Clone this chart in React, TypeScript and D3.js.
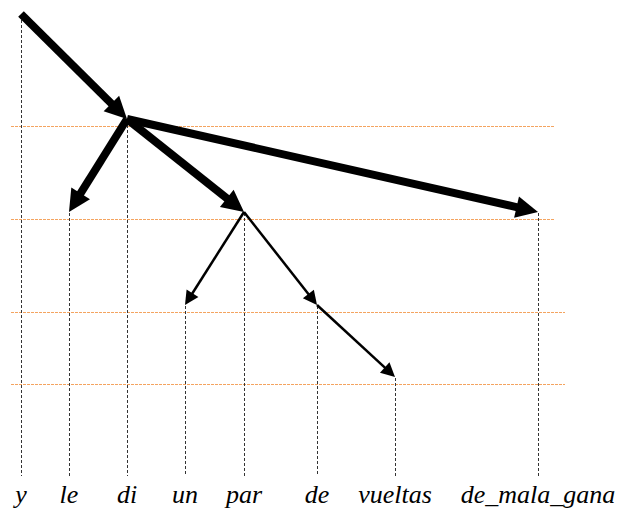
import React, { useEffect, useRef } from 'react';
import * as d3 from 'd3';

// words of the sentence, in order
const words = ['y', 'le', 'di', 'un', 'par', 'de', 'vueltas', 'de_mala_gana'];
// depth of each word in the tree
const depths = [0, 2, 1, 3, 2, 3, 4, 2];
// head of each word (null = root)
const heads = [null, 'di', 'y', 'par', 'di', 'par', 'de', 'di'];
// weight of the arc coming into each word
const arcWeights = ['', 'thick', 'thick', 'thin', 'thick', 'thin', 'thin', 'thick'];
// levels that get an orange guide line
const guideLevels = [1, 2, 3, 4];

function App() {
  const svgRef = useRef() as React.RefObject<SVGSVGElement>;

  useEffect(() => {
    const width = 636;
    const height = 508;
    const bottom = 476;

    const svg = d3.select(svgRef.current)
      .attr('width', width)
      .attr('height', height);
    svg.selectAll('*').remove();

    const x = d3.scaleOrdinal<string, number>()
      .domain(words)
      .range([21, 69, 127, 185, 244, 317, 395, 538]);

    const y = d3.scaleLinear()
      .domain([0, 1, 2, 3, 4])
      .range([14, 119, 212, 305, 377]);

    // orange guide lines
    svg.selectAll('.guide')
      .data(guideLevels)
      .join('line')
      .attr('class', 'guide')
      .attr('x1', 11)
      .attr('x2', d => (d < 3 ? 555 : 565))
      .attr('y1', d => y(d) + 7.5)
      .attr('y2', d => y(d) + 7.5)
      .attr('stroke', '#f4a460')
      .attr('stroke-width', 1.2)
      .attr('stroke-dasharray', '3,1');

    const nodes = words.map((w, i) => ({ word: w, depth: depths[i], head: heads[i], weight: arcWeights[i] }));

    // vertical dotted projection lines
    svg.selectAll('.proj')
      .data(nodes)
      .join('line')
      .attr('class', 'proj')
      .attr('x1', d => x(d.word) + 0.5)
      .attr('x2', d => x(d.word) + 0.5)
      .attr('y1', d => y(d.depth) + 1)
      .attr('y2', bottom)
      .attr('stroke', '#333')
      .attr('stroke-width', 1)
      .attr('stroke-dasharray', '3,2');

    // arcs
    const depthOf = (w: string) => depths[words.indexOf(w)];
    const arcs = nodes.filter(d => d.head !== null).map(d => {
      const thick = d.weight === 'thick';
      return {
        x1: x(d.head as string), y1: y(depthOf(d.head as string)),
        x2: x(d.word), y2: y(d.depth),
        sw: thick ? 8 : 2.5,
        hl: thick ? 22 : 14,
        hw: thick ? 22 : 14,
      };
    });

    const g = svg.append('g');
    arcs.forEach(a => {
      const dx = a.x2 - a.x1;
      const dy = a.y2 - a.y1;
      const len = Math.sqrt(dx * dx + dy * dy);
      const ux = dx / len;
      const uy = dy / len;
      const bx = a.x2 - ux * a.hl;
      const by = a.y2 - uy * a.hl;
      g.append('line')
        .attr('x1', a.x1)
        .attr('y1', a.y1)
        .attr('x2', bx + ux * 1)
        .attr('y2', by + uy * 1)
        .attr('stroke', '#000')
        .attr('stroke-width', a.sw);
      const pts: [number, number][] = [
        [a.x2, a.y2],
        [bx - uy * a.hw / 2, by + ux * a.hw / 2],
        [bx + uy * a.hw / 2, by - ux * a.hw / 2],
      ];
      g.append('polygon')
        .attr('points', pts.map(p => p.join(',')).join(' '))
        .attr('fill', '#000');
    });

    // word labels
    svg.selectAll('.word')
      .data(words)
      .join('text')
      .attr('class', 'word')
      .attr('x', d => x(d))
      .attr('y', 503)
      .attr('text-anchor', 'middle')
      .attr('font-family', 'Liberation Serif, Times New Roman, serif')
      .attr('font-style', 'italic')
      .attr('font-size', 26)
      .attr('fill', '#000')
      .text(d => d);
  }, []);

  return (
    <div style={{ position: 'absolute', left: 0, top: 0 }}>
      <svg ref={svgRef} style={{ display: 'block' }}></svg>
    </div>
  );
}

export default App;
